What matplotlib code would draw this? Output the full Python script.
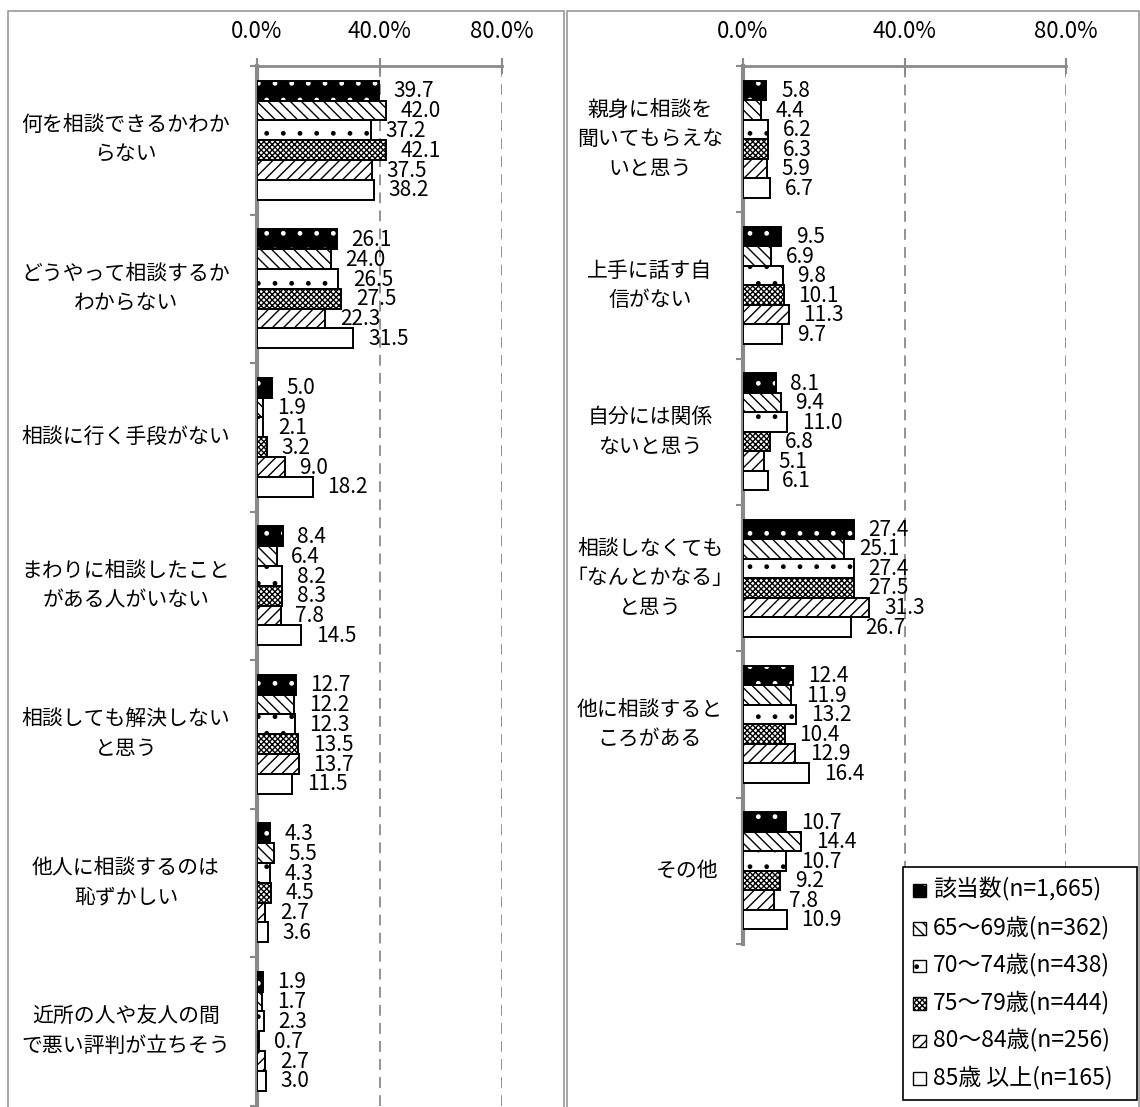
import matplotlib
matplotlib.use("Agg")
import matplotlib.pyplot as plt
from matplotlib.patches import Rectangle
from matplotlib.transforms import blended_transform_factory

plt.rcParams["font.family"] = ["Noto Sans CJK JP", "DejaVu Sans"]
plt.rcParams["hatch.linewidth"] = 1.0

# ---- data -------------------------------------------------------------
series_labels = ["該当数(n=1,665)", "65～69歳(n=362)", "70～74歳(n=438)",
                 "75～79歳(n=444)", "80～84歳(n=256)", "85歳 以上(n=165)"]

left_categories = ["何を相談できるかわか\nらない",
                   "どうやって相談するか\nわからない",
                   "相談に行く手段がない",
                   "まわりに相談したこと\nがある人がいない",
                   "相談しても解決しない\nと思う",
                   "他人に相談するのは\n恥ずかしい",
                   "近所の人や友人の間\nで悪い評判が立ちそう"]
left_values = [
    [39.7, 42.0, 37.2, 42.1, 37.5, 38.2],
    [26.1, 24.0, 26.5, 27.5, 22.3, 31.5],
    [5.0, 1.9, 2.1, 3.2, 9.0, 18.2],
    [8.4, 6.4, 8.2, 8.3, 7.8, 14.5],
    [12.7, 12.2, 12.3, 13.5, 13.7, 11.5],
    [4.3, 5.5, 4.3, 4.5, 2.7, 3.6],
    [1.9, 1.7, 2.3, 0.7, 2.7, 3.0],
]

right_categories = ["親身に相談を\n聞いてもらえな\nいと思う",
                    "上手に話す自\n信がない",
                    "自分には関係\nないと思う",
                    "相談しなくても\n「なんとかなる」\nと思う",
                    "他に相談すると\nころがある",
                    "その他"]
right_values = [
    [5.8, 4.4, 6.2, 6.3, 5.9, 6.7],
    [9.5, 6.9, 9.8, 10.1, 11.3, 9.7],
    [8.1, 9.4, 11.0, 6.8, 5.1, 6.1],
    [27.4, 25.1, 27.4, 27.5, 31.3, 26.7],
    [12.4, 11.9, 13.2, 10.4, 12.9, 16.4],
    [10.7, 14.4, 10.7, 9.2, 7.8, 10.9],
]

x_ticks = [0, 40, 80]
x_tick_labels = ["0.0%", "40.0%", "80.0%"]

# ---- styles -----------------------------------------------------------
# (face colour, hatch colour, hatch pattern)
styles = [
    ("black", "white", "."),
    ("white", "black", "\\\\\\"),
    ("white", "black", "."),
    ("white", "black", "xxxxxx"),
    ("white", "black", "///"),
    ("white", "black", ""),
]
GRAY = "#8a8a8a"

W, H = 1140, 1107
fig = plt.figure(figsize=(W / 100, H / 100), dpi=100)


def fx(px):
    return px / W


def fy(py):
    return 1 - py / H


# panel frames
for x0, x1 in [(8, 564), (567, 1139)]:
    fig.patches.append(Rectangle((fx(x0), fy(1120)), fx(x1 - x0), (1120 - 11) / H,
                                 transform=fig.transFigure, fill=False,
                                 edgecolor="#9a9a9a", linewidth=1.2, zorder=0))


def draw_panel(rect, categories, values, label_cx, label_shift=None):
    ax = fig.add_axes(rect)
    n = len(categories)
    nser = len(series_labels)
    bh = 0.8 / nser
    for i, row in enumerate(values):
        for j, v in enumerate(row):
            y = i + 0.1 + bh * (j + 0.5)
            face, hcol, hatch = styles[j]
            ax.barh(y, v, height=bh, color=face, edgecolor=hcol, hatch=hatch,
                    linewidth=0, zorder=3)
            ax.barh(y, v, height=bh, fill=False, edgecolor="black",
                    linewidth=1.4, zorder=4)
            ax.annotate(f"{v:.1f}", xy=(v, y), xytext=(10.5, -0.5),
                        textcoords="offset points", ha="left", va="center",
                        fontsize=15, zorder=5)
    ax.set_xlim(0, 80)
    ax.set_ylim(n, 0)
    for s in ["right", "bottom"]:
        ax.spines[s].set_visible(False)
    ax.spines["top"].set_color(GRAY)
    ax.spines["top"].set_linewidth(2)
    ax.spines["left"].set_color(GRAY)
    ax.spines["left"].set_linewidth(3)
    ax.xaxis.tick_top()
    ax.set_xticks(x_ticks)
    ax.set_xticklabels(x_tick_labels, fontsize=16)
    ax.tick_params(axis="x", direction="inout", length=11, width=1.5,
                   color=GRAY, pad=11)
    ax.set_yticks(range(n + 1))
    ax.set_yticklabels([])
    ax.tick_params(axis="y", direction="out", length=5, width=1.5, color=GRAY)
    for xv in x_ticks[1:]:
        ax.axvline(xv, color=GRAY, linewidth=1.3, linestyle=(0, (6, 4)), zorder=1)
    tr = blended_transform_factory(fig.transFigure, ax.transData)
    for i, cat in enumerate(categories):
        cx = label_cx
        if label_shift and cat in label_shift:
            cx += label_shift[cat]
        ax.text(fx(cx), i + 0.5, cat, transform=tr, ha="center", va="center",
                multialignment="center", fontsize=15, linespacing=1.45)
    return ax


top_px = 66
left_bottom = 66 + 7 * 148.5
right_bottom = 66 + 6 * 146.3
draw_panel([fx(257), fy(left_bottom), fx(502 - 257), (left_bottom - top_px) / H],
           left_categories, left_values, 126)
draw_panel([fx(743), fy(right_bottom), fx(1066 - 743), (right_bottom - top_px) / H],
           right_categories, right_values, 650, {"その他": 37})


# legend: each key is a small hatched square with a black outline
class SeriesKey:
    def __init__(self, style):
        self.style = style


class SeriesKeyHandler:
    def legend_artist(self, legend, orig_handle, fontsize, handlebox):
        face, hcol, hatch = orig_handle.style
        w, h = handlebox.width, handlebox.height
        s = min(w, h)
        x0 = handlebox.xdescent + (w - s) / 2
        y0 = handlebox.ydescent + (h - s) / 2
        base = Rectangle((x0, y0), s, s, facecolor=face, edgecolor=hcol,
                         hatch=hatch, linewidth=0,
                         transform=handlebox.get_transform())
        edge = Rectangle((x0, y0), s, s, fill=False, edgecolor="black",
                         linewidth=1.0, transform=handlebox.get_transform())
        handlebox.add_artist(base)
        handlebox.add_artist(edge)
        return edge


keys = [SeriesKey(st) for st in styles]
leg = fig.legend(keys, series_labels, loc="upper left",
                 bbox_to_anchor=(fx(903), fy(867), fx(1137 - 903), 0),
                 mode="expand", borderaxespad=0,
                 handler_map={SeriesKey: SeriesKeyHandler()},
                 handlelength=0.55, handleheight=0.55, handletextpad=0.3,
                 labelspacing=0.6, borderpad=0.45, fontsize=16.5,
                 fancybox=False, framealpha=1, edgecolor="black")
leg.get_frame().set_linewidth(1.2)
leg.set_zorder(10)

fig.savefig("out.png", dpi=100)
